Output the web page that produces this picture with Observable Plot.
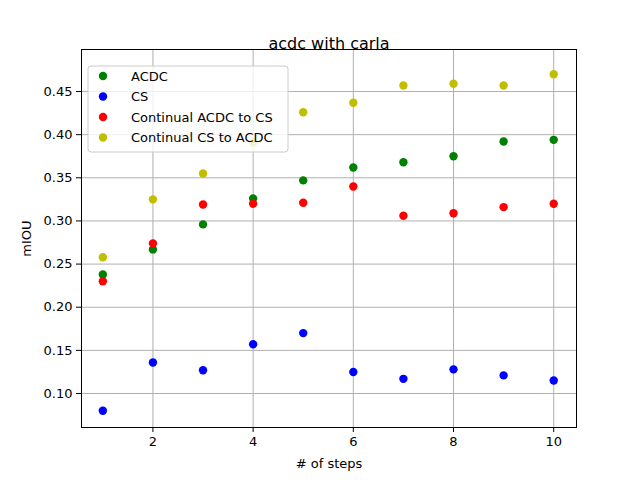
<!DOCTYPE html>
<html><head>
<meta charset="utf-8">
<script src="https://cdn.jsdelivr.net/npm/d3@7"></script>
<script src="https://cdn.jsdelivr.net/npm/@observablehq/plot@0.6"></script>
<style>body{margin:0;background:#fff}</style>
</head><body><div id="chart"></div>
<script>
const steps = [1, 2, 3, 4, 5, 6, 7, 8, 9, 10];
const acdc = [0.238, 0.267, 0.296, 0.326, 0.347, 0.362, 0.368, 0.375, 0.392, 0.394];
const cs = [0.080, 0.136, 0.127, 0.157, 0.170, 0.125, 0.117, 0.128, 0.121, 0.115];
const acdcToCs = [0.230, 0.274, 0.319, 0.320, 0.321, 0.340, 0.306, 0.309, 0.316, 0.320];
const csToAcdc = [0.258, 0.325, 0.355, 0.391, 0.426, 0.437, 0.457, 0.459, 0.457, 0.470];
const seriesNames = ["ACDC", "CS", "Continual ACDC to CS", "Continual CS to ACDC"];
const seriesColors = ["green", "blue", "red", "#bfbf00"];
const seriesValues = [acdc, cs, acdcToCs, csToAcdc];

const rows = seriesValues.flatMap((vals, s) => vals.map((v, i) => ({x: steps[i], y: v, s})));

const chart = Plot.plot({
  width: 640, height: 480,
  marginTop: 49, marginBottom: 53, marginLeft: 81, marginRight: 64,
  style: {fontFamily: "DejaVu Sans", fontSize: "13px", color: "#000", background: "#fff"},
  x: {domain: [0.574, 10.455], ticks: [2, 4, 6, 8, 10], label: "# of steps", labelArrow: "none", labelAnchor: "center", labelOffset: 40, tickSize: 5},
  y: {domain: [0.0606, 0.4987], ticks: d3.range(0.10, 0.451, 0.05), tickFormat: ".2f", label: "mIOU", labelArrow: "none", labelAnchor: "center", labelOffset: 60, tickSize: 5},
  marks: [
    Plot.gridX([2, 4, 6, 8, 10], {stroke: "#b0b0b0", strokeOpacity: 1}),
    Plot.gridY(d3.range(0.10, 0.451, 0.05), {stroke: "#b0b0b0", strokeOpacity: 1}),
    Plot.dot(rows, {x: "x", y: "y", r: 4.2, fill: d => seriesColors[d.s], stroke: null}),
    Plot.frame({stroke: "#000"}),
    Plot.text(["acdc with carla"], {frameAnchor: "top", dy: -12, fontSize: 16, fill: "#000"})
  ]
});
document.getElementById("chart").append(chart);

// legend in upper-left, matplotlib style
const svg = d3.select(chart);
const lg = svg.append("g").attr("transform", "translate(88,66)").attr("text-anchor", "start");
lg.append("rect").attr("width", 200).attr("height", 86).attr("rx", 3)
  .attr("fill", "#fff").attr("fill-opacity", 0.8).attr("stroke", "#ccc");
seriesNames.forEach((name, i) => {
  const y = 10 + i * 20.5;
  lg.append("circle").attr("cx", 15).attr("cy", y).attr("r", 4.2).attr("fill", seriesColors[i]);
  lg.append("text").attr("x", 43).attr("y", y).attr("dy", "0.35em").attr("text-anchor", "start")
    .attr("font-family", "DejaVu Sans").attr("font-size", 13).text(name);
});
</script>
</body></html>
